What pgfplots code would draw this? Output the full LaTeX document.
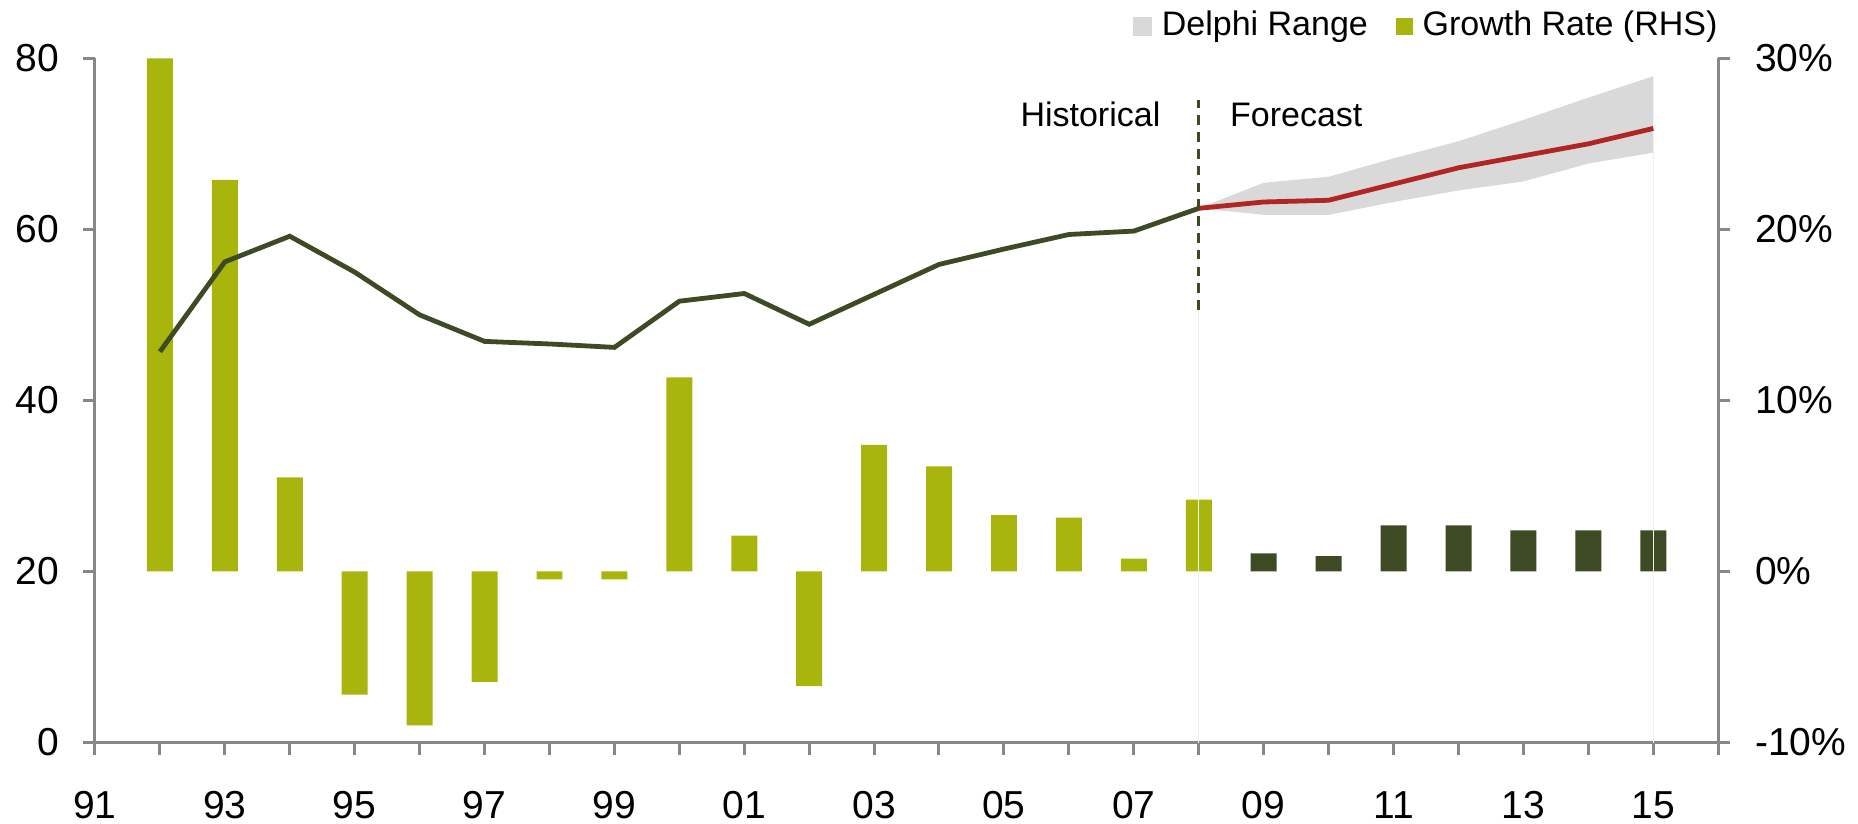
\documentclass[border=0pt]{standalone}
\usepackage{fontspec}
\setmainfont{Liberation Sans}
\usepackage{pgfplots}
\pgfplotsset{compat=1.18}
\definecolor{barolive}{HTML}{A8B50C}
\definecolor{darkolive}{HTML}{3E4A23}
\definecolor{fred}{HTML}{B22525}
\definecolor{bandgray}{HTML}{D9D9D9}
\definecolor{axgray}{HTML}{878787}
\begin{document}
\begin{tikzpicture}
\pgfplotsset{
  base/.style={
    scale only axis, width=405.8pt, height=171.05pt,
    at={(0,0)}, anchor=south west,
    xmin=1991, xmax=2016,
    tick align=outside, major tick length=3pt,
    tick style={axgray, line width=0.75pt},
    axis line style={axgray, line width=0.75pt},
    ticklabel style={font=\fontsize{9.75}{11.7}\selectfont, inner sep=0pt},
  }
}
% right axis: growth rate bars
\begin{axis}[base,
  ymin=-10, ymax=30,
  axis x line=none, axis y line*=right,
  ytick={-10,0,10,20,30},
  yticklabels={-10\%,0\%,10\%,20\%,30\%},
  yticklabel style={anchor=west, xshift=6pt},
]
\addplot[ybar, bar width=0.4, bar shift=0pt, fill=barolive, draw=none] coordinates {
 (1992,30.0) (1993,22.9) (1994,5.5) (1995,-7.2) (1996,-9.0) (1997,-6.45)
 (1998,-0.47) (1999,-0.47) (2000,11.35) (2001,2.1) (2002,-6.7) (2003,7.4)
 (2004,6.15) (2005,3.3) (2006,3.15) (2007,0.75) (2008,4.2)};
\addplot[ybar, bar width=0.4, bar shift=0pt, fill=darkolive, draw=none] coordinates {
 (2009,1.05) (2010,0.9) (2011,2.7) (2012,2.7) (2013,2.4) (2014,2.4) (2015,2.4)};
\end{axis}
% left axis: level, range, lines
\begin{axis}[base,
  ymin=0, ymax=80,
  axis x line*=bottom, axis y line*=left,
  xtick={1991,...,2016},
  xticklabels={91,,93,,95,,97,,99,,01,,03,,05,,07,,09,,11,,13,,15,},
  xticklabel style={anchor=north, yshift=-9.1pt},
  ytick={0,20,40,60,80},
  yticklabels={0,20,40,60,80},
  yticklabel style={anchor=east, xshift=-5.75pt},
  legend columns=2,
  legend style={draw=none, fill=none, inner sep=0pt, at={(rel axis cs:1,1)}, anchor=east,
    xshift=2.5pt, yshift=8.0pt,
    font=\fontsize{8.5}{10}\selectfont,
    /tikz/every even column/.append style={column sep=4.5pt},
    nodes={inner xsep=2.5pt, inner ysep=0pt}},
]
\addplot[fill=bandgray, draw=none, forget plot] coordinates {
 (2008,62.46) (2009,65.45) (2010,66.15) (2011,68.3) (2012,70.3) (2013,72.8) (2014,75.4) (2015,77.9)
 (2015,68.96) (2014,67.7) (2013,65.6) (2012,64.55) (2011,63.2) (2010,61.7) (2009,61.7) (2008,62.46)} -- cycle;
\addplot[black!6, line width=0.3pt, forget plot] coordinates {(2008,0) (2008,62.46)};
\addplot[black!6, line width=0.3pt, forget plot] coordinates {(2015,0) (2015,68.96)};
\addplot[darkolive, line width=1.2pt, forget plot] coordinates {
 (1992,45.7) (1993,56.2) (1994,59.2) (1995,55.0) (1996,50.0) (1997,46.9) (1998,46.6)
 (1999,46.2) (2000,51.6) (2001,52.5) (2002,48.9) (2003,52.4) (2004,55.9) (2005,57.7)
 (2006,59.4) (2007,59.8) (2008,62.46)};
\addplot[fred, line width=1.2pt, forget plot] coordinates {
 (2008,62.46) (2009,63.2) (2010,63.4) (2011,65.3) (2012,67.2) (2013,68.6) (2014,70.0) (2015,71.8)};
\addplot[darkolive, line width=0.75pt, dash pattern=on 2.4pt off 1.8pt, forget plot] coordinates {(2008,50.6) (2008,75.1)};
\node[anchor=east, inner sep=0pt, font=\fontsize{8.5}{10}\selectfont] at (axis cs:2007.42,73.4) {Historical};
\node[anchor=west, inner sep=0pt, font=\fontsize{8.5}{10}\selectfont] at (axis cs:2008.47,73.4) {Forecast};
\addlegendimage{legend image code/.code={\fill[bandgray] (0pt,-2.2pt) rectangle (4.4pt,2.2pt);}}
\addlegendentry{Delphi Range}
\addlegendimage{legend image code/.code={\fill[barolive] (0pt,-2.0pt) rectangle (3.8pt,2.0pt);}}
\addlegendentry{Growth Rate (RHS)}
\end{axis}
\pgfresetboundingbox
\path[use as bounding box] (-23.75pt,-20.125pt) rectangle (440.75pt,185.625pt);
\end{tikzpicture}
\end{document}
